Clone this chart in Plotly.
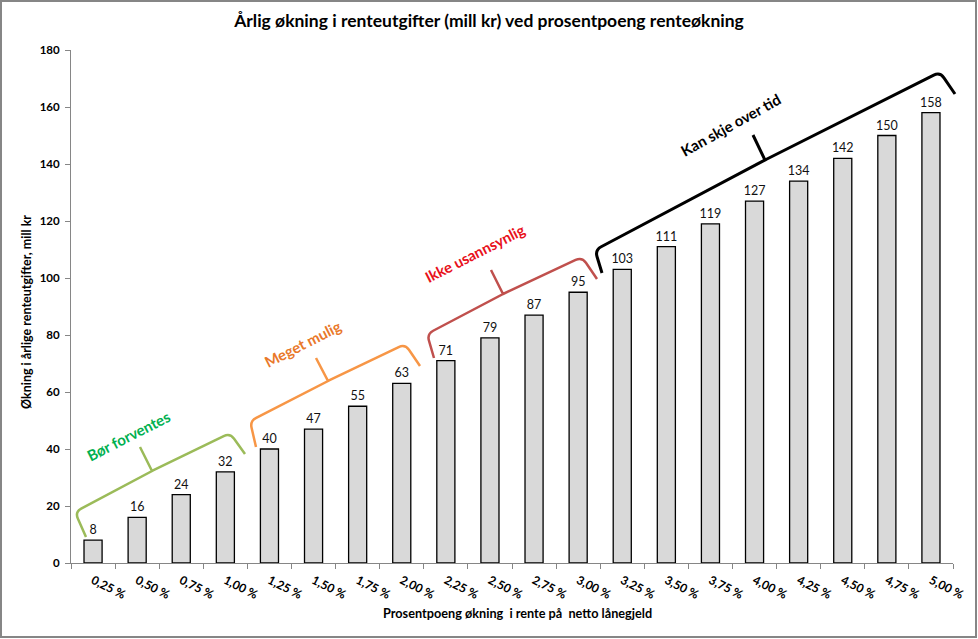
import plotly.graph_objects as go

categories = ["0,25 %", "0,50 %", "0,75 %", "1,00 %", "1,25 %", "1,50 %", "1,75 %", "2,00 %",
              "2,25 %", "2,50 %", "2,75 %", "3,00 %", "3,25 %", "3,50 %", "3,75 %", "4,00 %",
              "4,25 %", "4,50 %", "4,75 %", "5,00 %"]
values = [8, 16, 24, 32, 40, 47, 55, 63, 71, 79, 87, 95, 103, 111, 119, 127, 134, 142, 150, 158]

W, H = 978, 639
L, R, T, B = 71, 953, 50, 563
FONT = "Lato"


def px2paper(x, y):
    return (x - L) / (R - L), (B - y) / (B - T)


def brace_path(A, c1, base, tip, c2, Bp, r=7):
    def toward(p, q, d):
        dx, dy = q[0] - p[0], q[1] - p[1]
        n = (dx * dx + dy * dy) ** 0.5
        return (p[0] + dx / n * d, p[1] + dy / n * d)

    a1 = toward(c1, A, r)
    b1 = toward(c1, base, r)
    a2 = toward(c2, base, r)
    b2 = toward(c2, Bp, r)

    def f(p):
        x, y = px2paper(*p)
        return f"{x:.5f},{y:.5f}"

    return (f"M{f(A)} L{f(a1)} Q{f(c1)} {f(b1)} L{f(base)} L{f(tip)} "
            f"M{f(base)} L{f(a2)} Q{f(c2)} {f(b2)} L{f(Bp)}")


braces = [
    dict(pts=[(86, 537), (75, 512), (152, 471), (140, 447), (230, 433), (245, 454)], color="#9BBB59", w=2.5),
    dict(pts=[(256, 447), (250, 421), (328, 381), (316, 358), (405, 344), (420, 366)], color="#F79646", w=2.5),
    dict(pts=[(434, 358), (427, 334), (503, 294), (491, 270), (582, 257), (597, 279)], color="#C0504D", w=2.5),
    dict(pts=[(602, 273), (595, 250), (765, 160), (753, 135), (940, 72), (955, 94)], color="#000000", w=3),
]

labels = [
    dict(text="Bør forventes", x=128, y=436, angle=-27, color="#00B050"),
    dict(text="Meget mulig", x=302, y=344, angle=-27, color="#E9782A"),
    dict(text="Ikke usannsynlig", x=475, y=253, angle=-27, color="#E8111B"),
    dict(text="Kan skje over tid", x=730, y=125, angle=-29, color="#000000"),
]

fig = go.Figure()
fig.add_trace(go.Bar(
    x=categories, y=values,
    marker=dict(color="#D9D9D9", line=dict(color="#000000", width=1.3)),
    text=[str(v) for v in values], textposition="outside", constraintext="none",
    textfont=dict(family=FONT, size=12.5, color="#111111"),
    cliponaxis=False, width=0.41,
))

shapes = []
for b in braces:
    shapes.append(dict(type="path", xref="paper", yref="paper",
                       path=brace_path(*b["pts"]),
                       line=dict(color=b["color"], width=b["w"])))
shapes.append(dict(type="rect", xref="paper", yref="paper",
                   x0=(1 - L) / (R - L), x1=(W - 2 - L) / (R - L),
                   y0=(B - (H - 2)) / (B - T), y1=(B - 1) / (B - T),
                   line=dict(color="#868686", width=2)))

annotations = []
for lb in labels:
    x, y = px2paper(lb["x"], lb["y"])
    annotations.append(dict(text=lb["text"], x=x, y=y, xref="paper", yref="paper",
                            xanchor="center", yanchor="middle",
                            showarrow=False, textangle=lb["angle"],
                            font=dict(family=FONT, size=15, color=lb["color"], weight="bold")))

x, y = px2paper(26, 312)
annotations.append(dict(text="Økning i årlige renteutgifter, mill kr", x=x, y=y, xref="paper", yref="paper",
                        xanchor="center", yanchor="middle",
                        showarrow=False, textangle=-90,
                        font=dict(family=FONT, size=12.5, color="#000", weight="bold")))
x, y = px2paper(517, 613)
annotations.append(dict(text="Prosentpoeng økning  i rente på  netto lånegjeld", x=x, y=y, xref="paper", yref="paper",
                        xanchor="center", yanchor="middle",
                        showarrow=False,
                        font=dict(family=FONT, size=12.7, color="#000", weight="bold")))

fig.update_layout(
    width=W, height=H,
    margin=dict(l=L, r=W - R, t=T, b=H - B, autoexpand=False),
    paper_bgcolor="white", plot_bgcolor="white",
    showlegend=False,
    title=dict(text="Årlig økning i renteutgifter (mill kr) ved prosentpoeng renteøkning",
               x=0.5, xref="container", y=1 - 21 / H, yref="container", yanchor="middle",
               font=dict(family=FONT, size=17.5, color="#000", weight="bold")),
    xaxis=dict(type="category", tickson="boundaries", ticks="outside", ticklen=5,
               tickcolor="#868686", showline=True, linecolor="#868686", linewidth=1,
               tickangle=27, showgrid=False, automargin=False, ticklabelstandoff=5,
               tickfont=dict(family=FONT, size=12, color="#000", weight="bold")),
    yaxis=dict(range=[0, 180], dtick=20, ticks="outside", ticklen=5, tickcolor="#868686",
               showline=True, linecolor="#868686", linewidth=1, showgrid=False, zeroline=False,
               automargin=False, ticklabelstandoff=3,
               tickfont=dict(family=FONT, size=11.5, color="#000", weight="bold")),
    shapes=shapes, annotations=annotations,
)

fig.write_html("out.html", config={"displayModeBar": False},
               post_script="document.body.style.margin='0';document.body.style.padding='0';")
